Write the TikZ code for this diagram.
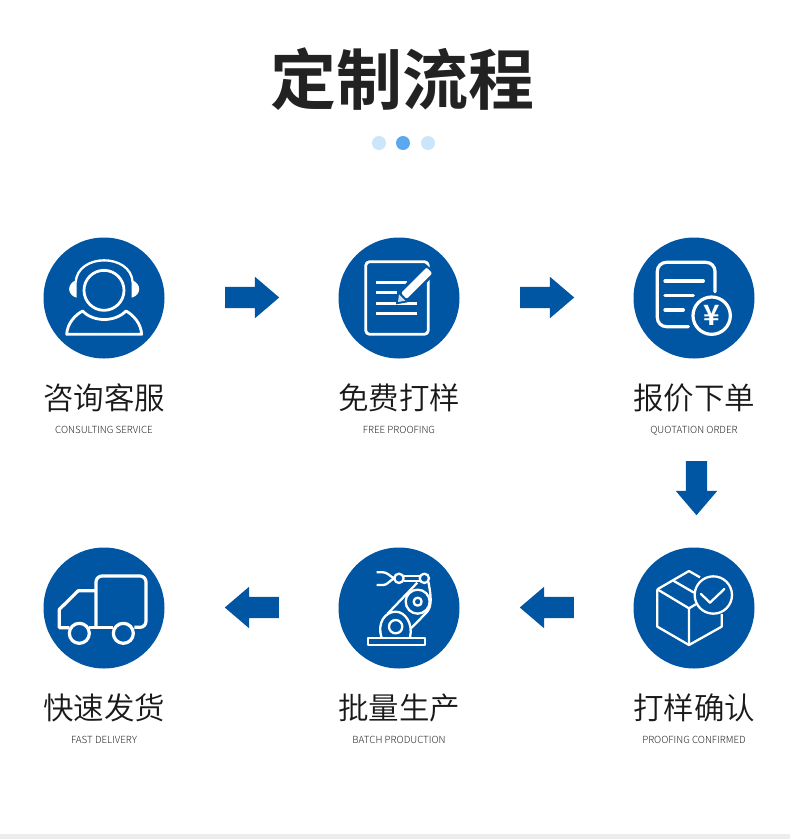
\documentclass[tikz,border=0pt]{standalone}
\usepackage{fontspec}
\newfontfamily\cjkbold{Noto Sans CJK SC Bold}
\newfontfamily\cjklight{Noto Sans CJK SC DemiLight}
\newfontfamily\cjkthin{Noto Sans CJK SC Light}
\usetikzlibrary{shapes.arrows}
\definecolor{brandblue}{HTML}{0056A3}
\definecolor{dotpale}{HTML}{CBE5FB}
\definecolor{dotmid}{HTML}{5AA9EE}
\definecolor{inkdark}{HTML}{222222}
\tikzset{
    badge/.style={circle, fill=brandblue, minimum size=121pt, inner sep=0pt},
    pagedot/.style={circle, minimum size=14pt, inner sep=0pt},
    flowarrow/.style={single arrow, fill=brandblue, inner sep=10.5pt, minimum width=41pt,
        minimum height=54pt, single arrow head extend=10pt, single arrow tip angle=81,
        single arrow head indent=0pt, anchor=tail},
    stepcn/.style={font=\cjklight\fontsize{30.5pt}{30.5pt}\selectfont, text=black!90},
    stepen/.style={font=\cjkthin\fontsize{9.8pt}{9.8pt}\selectfont, text=inkdark, text height=8pt, text depth=2pt},
    icon/.style={draw=white, line width=2.8pt, line join=round},
    iconthin/.style={draw=white, line width=2.3pt, line join=round},
}
\begin{document}
\begin{tikzpicture}[x=1pt, y=-1pt]
    \useasboundingbox (0,0) rectangle (790,839);
    \fill[black!7] (0,834) rectangle (790,839);

    \node[font=\cjkbold\fontsize{66pt}{66pt}\selectfont, text=inkdark] (title) at (402.5,79.5) {定制流程};
    \node[pagedot, fill=dotpale] (dota) at (379,143) {};
    \node[pagedot, fill=dotmid] (dotb) at (403,143) {};
    \node[pagedot, fill=dotpale] (dotc) at (428,143) {};

    \node[badge] (consult) at (104,298) {};
    \node[badge] (sample) at (399,298) {};
    \node[badge] (quote) at (694,298) {};
    \node[badge] (confirm) at (694,608) {};
    \node[badge] (batch) at (399,608) {};
    \node[badge] (ship) at (104,608) {};

    \node[stepcn] (consultcn) at (104,398) {咨询客服};
    \node[stepen] (consulten) at (104,430) {CONSULTING SERVICE};
    \node[stepcn] (samplecn) at (399,398) {免费打样};
    \node[stepen] (sampleen) at (399,430) {FREE PROOFING};
    \node[stepcn] (quotecn) at (694,398) {报价下单};
    \node[stepen] (quoteen) at (694,430) {QUOTATION ORDER};
    \node[stepcn] (confirmcn) at (694,708) {打样确认};
    \node[stepen] (confirmen) at (694,740) {PROOFING CONFIRMED};
    \node[stepcn] (batchcn) at (399,708) {批量生产};
    \node[stepen] (batchen) at (399,740) {BATCH PRODUCTION};
    \node[stepcn] (shipcn) at (104,708) {快速发货};
    \node[stepen] (shipen) at (104,740) {FAST DELIVERY};

    \node[flowarrow] (arrowa) at (225,297.5) {};
    \node[flowarrow] (arrowb) at (520,297.5) {};
    \node[flowarrow, shape border rotate=270] (arrowc) at (696.5,461) {};
    \node[flowarrow, shape border rotate=180] (arrowd) at (574,607.5) {};
    \node[flowarrow, shape border rotate=180] (arrowe) at (279,607.5) {};

    % headset
    \begin{scope}[shift={(30,225)}, scale=1/3]
        \draw[icon] (222,196) circle (60);
        \draw[iconthin] (137,172) .. controls (142,84) and (303,84) .. (308,172);
        \fill[white] (140,165) .. controls (110,175) and (110,210) .. (140,218) -- cycle;
        \fill[white] (305,165) .. controls (335,175) and (335,210) .. (305,218) -- cycle;
        \draw[icon] (110,328) .. controls (112,295) and (135,270) .. (158,258)
            .. controls (190,292) and (255,292) .. (288,258)
            .. controls (310,270) and (333,295) .. (335,328) -- cycle;
    \end{scope}

    % sheet and pencil
    \begin{scope}[shift={(330,225)}, scale=1/3]
        \draw[icon, rounded corners=4pt] (107,110) rectangle (295,328);
        \draw[icon] (137,173) -- (232,173);
        \draw[icon] (137,203) -- (200,203);
        \draw[icon] (137,235) -- (260,235);
        \draw[icon] (137,265) -- (260,265);
        \fill[brandblue] (288,118) -- (318,145) -- (232,232) -- (198,238) -- (202,200) -- cycle;
        \fill[white, rounded corners=2pt] (290,127) -- (307,145) -- (230,222) -- (213,204) -- cycle;
        \fill[white!80!brandblue] (207,208) -- (226,227) -- (204,231) -- cycle;
    \end{scope}

    % bill with yen
    \begin{scope}[shift={(625,225)}, scale=1/3]
        \draw[icon, line width=3.2pt, line cap=round, rounded corners=9pt]
            (270,200) -- (270,112) -- (97,112) -- (97,305) -- (190,305);
        \draw[icon, line width=3.2pt, line cap=round] (120,168) -- (235,168);
        \draw[icon, line width=3.2pt, line cap=round] (120,212) -- (205,212);
        \draw[icon, line width=3.2pt, line cap=round] (120,255) -- (175,255);
        \draw[icon, line width=3.2pt] (260,272) circle (56);
        \node[font=\cjkbold\fontsize{28pt}{28pt}\selectfont, text=white, inner sep=0pt] (yen) at (260,272) {¥};
    \end{scope}

    % box with tick
    \begin{scope}[shift={(625,540)}, scale=1/3]
        \draw[iconthin] (97,148) -- (192,93) -- (225,112);
        \draw[iconthin] (97,148) -- (192,205) -- (192,315);
        \draw[iconthin] (97,148) -- (97,260) -- (192,315) -- (290,260) -- (290,222);
        \draw[iconthin] (192,205) -- (212,193);
        \draw[iconthin] (145,122) -- (207,158);
        \draw[iconthin] (265,165) circle (56);
        \draw[iconthin, line cap=round] (228,162) -- (255,188) -- (298,147);
    \end{scope}

    % robot arm
    \begin{scope}[shift={(330,540)}, scale=1/3]
        \draw[iconthin] (115,295) rectangle (285,315);
        \draw[iconthin] (197,260) circle (20);
        \draw[iconthin] (155,293) .. controls (140,250) and (165,215) .. (197,215)
            .. controls (225,215) and (250,250) .. (240,293);
        \draw[iconthin] (172,222) -- (262,128);
        \draw[iconthin] (243,265) -- (290,217) .. controls (305,200) and (305,175) .. (295,125);
        \draw[iconthin] (263,185) circle (36);
        \draw[iconthin] (263,185) circle (12);
        \draw[iconthin] (283,115) circle (14);
        \draw[iconthin] (207,115) circle (14);
        \draw[iconthin] (221,108) -- (269,108);
        \draw[iconthin] (221,122) -- (269,122);
        \draw[iconthin] (140,97) -- (160,97) .. controls (172,97) and (178,108) .. (193,115)
            .. controls (178,122) and (172,135) .. (160,135) -- (140,135);
    \end{scope}

    % truck
    \begin{scope}[shift={(35,540)}, scale=1/3]
        \draw[icon, line width=3.2pt, rounded corners=6pt] (183,262) -- (183,108) -- (333,108) -- (333,262) -- (298,262);
        \draw[icon, line width=3.2pt] (183,152) -- (130,152) -- (73,208) -- (73,263) -- (103,263);
        \draw[icon, line width=3.2pt] (163,262) -- (235,262);
        \draw[icon, line width=3.2pt] (133,280) circle (30);
        \draw[icon, line width=3.2pt] (265,280) circle (30);
    \end{scope}
\end{tikzpicture}
\end{document}
